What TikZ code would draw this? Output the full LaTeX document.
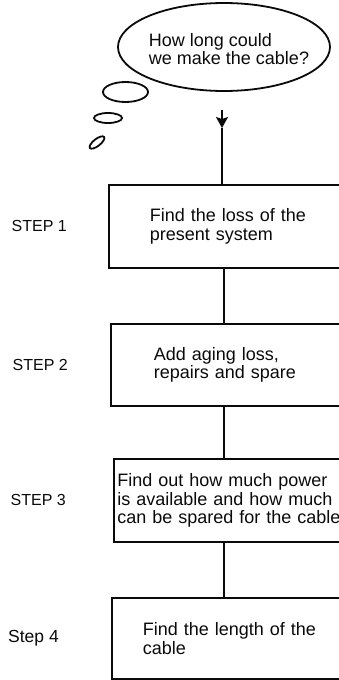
\documentclass[tikz,border=0pt]{standalone}
\usepackage{fontspec}
\setmainfont{Liberation Sans}
\usepackage{tikz}
\usetikzlibrary{arrows.meta,positioning,shapes.geometric}
\definecolor{ink}{RGB}{10,10,10}
\tikzset{
  stepbox/.style  = {draw=ink, line width=1.7pt, text=ink, anchor=north west,
                     align=left, inner ysep=0pt,
                     font=\fontsize{18}{18.5}\selectfont},
  steptag/.style  = {text=ink, inner sep=0pt, font=\fontsize{16}{16}\selectfont},
  thought/.style  = {ellipse, draw=ink, line width=1.8pt, inner sep=0pt},
  bubble/.style   = {draw=ink, line width=1.8pt},
  wire/.style     = {draw=ink, line width=1.7pt},
  cue/.style      = {-{Stealth[length=11pt, width=12pt, inset=2pt]}, draw=ink, line width=1.7pt},
}

\begin{document}
\begin{tikzpicture}[x=1pt, y=-1pt]
\useasboundingbox (0,0) rectangle (339,680);
% thought bubble with the question
\node[thought, minimum width=212pt, minimum height=88pt] (cloud) at (224,47) {};
\node[text=ink, align=left, inner sep=0pt, font=\fontsize{18}{18}\selectfont]
  (question) at ([xshift=5pt, yshift=-2pt]cloud.center) {How long could\\we make the cable?};
\draw[bubble] (125.5,92) ellipse [x radius=22.5pt, y radius=10pt];
\draw[bubble] (108,118) ellipse [x radius=14pt, y radius=5pt];
\draw[bubble, rotate around={38:(97,142.5)}] (97,142.5) ellipse [x radius=9pt, y radius=3.5pt];

% the four steps (right edges run off the page)
\node[stepbox, minimum height=83pt, inner xsep=41pt, text width=170pt] (box1) at (108,184)
  {Find the loss of the\\present system};
\node[stepbox, minimum height=82pt, inner xsep=43pt, text width=164pt] (box2) at (110,323)
  {Add aging loss,\\repairs and spare};
\node[stepbox, minimum height=83pt, inner xsep=3.5pt, text width=240pt] (box3) at (113,458)
  {Find out how much power\\is available and how much\\can be spared for the cable};
\node[stepbox, minimum height=81pt, inner xsep=31pt, text width=187pt] (box4) at (111,597)
  {Find the length of the\\cable};

\node[steptag, left=41pt of box1] (tag1) {STEP 1};
\node[steptag, left=42pt of box2] (tag2) {STEP 2};
\node[steptag, left=47pt of box3] (tag3) {STEP 3};
\node[steptag, left=52pt of box4, font=\fontsize{17.5}{17.5}\selectfont] (tag4) {Step 4};

\coordinate (start) at (222,110);
\coordinate (tip) at (222,128);
\coordinate (spine) at (224,0);
\draw[cue] (start) -- (tip);
\draw[wire] (tip) -- (start |- box1.north);
\draw[wire] (spine |- box1.south) -- (spine |- box2.north);
\draw[wire] (spine |- box2.south) -- (spine |- box3.north);
\draw[wire] (spine |- box3.south) -- (spine |- box4.north);
\end{tikzpicture}
\end{document}
